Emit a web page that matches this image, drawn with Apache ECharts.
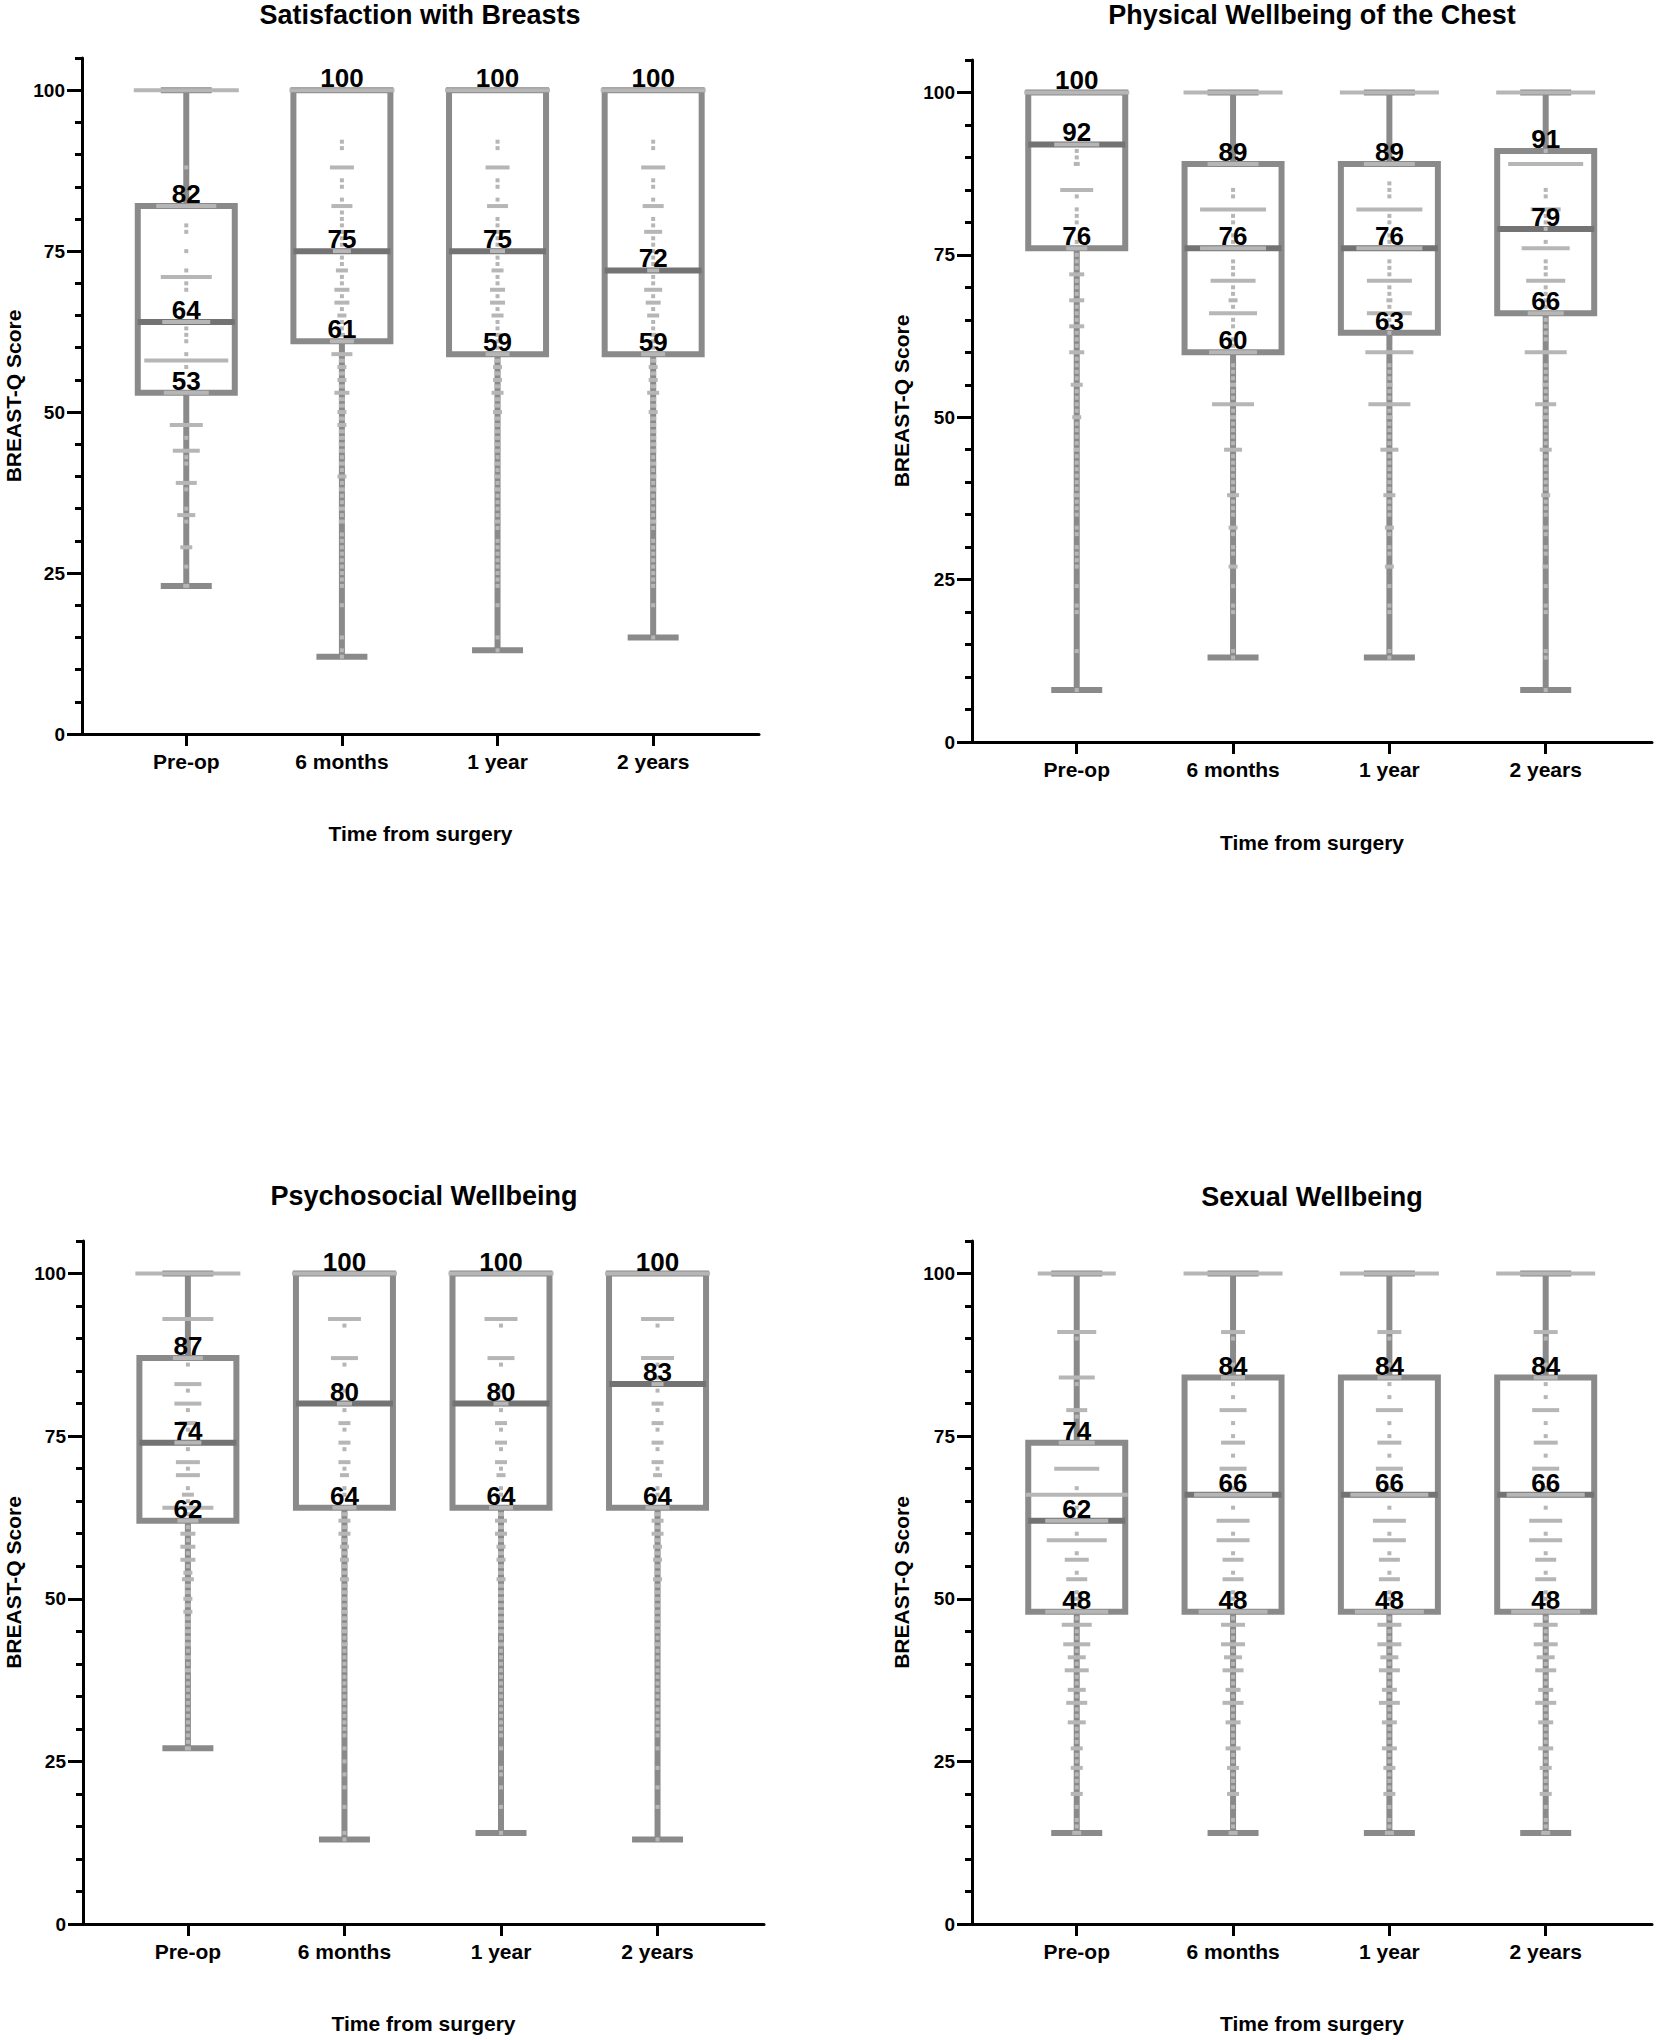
<!DOCTYPE html>
<html>
<head>
<meta charset="utf-8">
<script src="https://cdn.jsdelivr.net/npm/echarts@6/dist/echarts.min.js"></script>
<style>
html,body{margin:0;padding:0;background:#ffffff;}
#chart{width:1661px;height:2040px;}
</style>
</head>
<body>
<div id="chart"></div>
<script>
// ---------------- DATA ----------------
const categories = ['Pre-op', '6 months', '1 year', '2 years'];
const yTickValues = [0, 25, 50, 75, 100];
const panelTitles = ['Satisfaction with Breasts', 'Physical Wellbeing of the Chest', 'Psychosocial Wellbeing', 'Sexual Wellbeing'];
const yAxisTitle = 'BREAST-Q Score';
const xAxisTitle = 'Time from surgery';

// box statistics per category: [min, Q1, median, Q3, max]
const satisfactionBox = [[23, 53, 64, 82, 100], [12, 61, 75, 100, 100], [13, 59, 75, 100, 100], [15, 59, 72, 100, 100]];
const physicalBox = [[8, 76, 92, 100, 100], [13, 60, 76, 89, 100], [13, 63, 76, 89, 100], [8, 66, 79, 91, 100]];
const psychosocialBox = [[27, 62, 74, 87, 100], [13, 64, 80, 100, 100], [14, 64, 80, 100, 100], [13, 64, 83, 100, 100]];
const sexualBox = [[14, 48, 62, 74, 100], [14, 48, 66, 84, 100], [14, 48, 66, 84, 100], [14, 48, 66, 84, 100]];

// individual scores per category: [score, number of patients]
const satisfactionPoints = [
  [[100,35],[88,1],[82,20],[79,1],[78,1],[75,1],[72,1],[71,17],[70,1],[69,1],[64,16],[63,1],[62,1],[61,1],[59,1],[58,28],[57,1],[53,15],[48,11],[46,1],[44,9],[43,1],[42,1],[39,7],[38,1],[35,1],[34,6],[33,1],[29,4],[26,1],[23,2]],
  [[100,35],[92,1],[91,1],[88,8],[86,1],[85,1],[83,1],[82,7],[81,1],[80,1],[79,1],[78,1],[77,1],[76,1],[75,6],[74,1],[73,1],[72,4],[71,1],[70,1],[69,5],[68,1],[67,5],[66,1],[65,3],[64,1],[63,1],[62,2],[61,8],[59,7],[58,2],[57,3],[56,2],[55,3],[54,2],[53,5],[52,2],[51,2],[50,3],[49,2],[48,3],[47,2],[46,2],[45,2],[44,2],[43,1],[42,2],[41,1],[40,3],[39,1],[38,2],[37,1],[36,1],[35,2],[34,1],[33,2],[31,1],[30,1],[29,1],[28,1],[27,1],[26,1],[25,1],[24,1],[23,1],[20,1],[15,1],[13,1],[12,1]],
  [[100,35],[92,1],[91,1],[88,8],[86,1],[85,1],[83,1],[82,7],[80,1],[79,1],[78,4],[77,1],[76,1],[75,5],[74,1],[73,1],[72,4],[71,1],[70,1],[69,5],[68,1],[67,5],[66,1],[65,4],[64,1],[63,1],[62,2],[61,1],[60,1],[59,8],[58,2],[57,3],[56,2],[55,3],[54,2],[53,4],[52,2],[51,2],[50,3],[49,2],[48,2],[47,2],[46,2],[45,2],[44,2],[43,1],[42,2],[41,1],[40,2],[39,1],[38,2],[37,1],[36,1],[35,1],[34,1],[33,2],[32,1],[30,1],[29,1],[28,1],[27,1],[26,1],[25,1],[24,1],[23,1],[20,1],[15,1],[13,1]],
  [[100,35],[92,1],[91,1],[88,8],[86,1],[85,1],[83,1],[82,7],[80,1],[79,1],[78,6],[77,1],[76,1],[75,1],[74,1],[73,1],[72,4],[71,1],[70,1],[69,6],[68,1],[67,5],[66,1],[65,4],[64,1],[63,1],[62,2],[61,1],[60,1],[59,8],[58,2],[57,3],[56,2],[55,3],[54,2],[53,4],[52,2],[51,2],[50,3],[49,2],[48,2],[47,2],[46,2],[45,2],[44,2],[43,1],[42,2],[41,1],[40,2],[39,1],[38,2],[37,1],[36,1],[35,1],[34,1],[33,2],[32,1],[30,1],[29,1],[28,1],[27,1],[26,1],[25,1],[24,1],[23,1],[20,1],[15,1]]
];
const physicalPoints = [
  [[100,35],[92,15],[91,1],[90,1],[89,2],[85,11],[84,1],[82,1],[81,1],[80,1],[77,1],[76,7],[75,1],[74,1],[73,1],[72,5],[71,1],[70,1],[69,1],[68,5],[67,1],[66,1],[65,1],[64,5],[63,1],[62,1],[61,1],[60,5],[59,1],[58,1],[57,1],[56,1],[55,4],[54,1],[53,1],[52,1],[51,1],[50,3],[49,1],[48,1],[47,1],[46,1],[45,2],[44,1],[43,1],[42,1],[41,1],[40,1],[39,1],[38,2],[37,1],[36,1],[35,1],[33,1],[32,1],[30,1],[29,1],[28,1],[27,1],[24,1],[21,1],[20,1],[14,1],[8,1]],
  [[100,33],[89,17],[85,1],[84,1],[82,22],[81,1],[80,1],[78,1],[77,1],[76,22],[74,1],[73,1],[72,1],[71,15],[70,1],[69,1],[68,3],[67,1],[66,16],[65,1],[64,1],[62,1],[61,1],[60,16],[58,1],[57,1],[56,1],[55,2],[54,1],[53,1],[52,14],[51,1],[50,2],[49,1],[48,1],[47,1],[46,1],[45,6],[44,1],[43,1],[42,1],[41,1],[40,1],[39,1],[38,4],[37,1],[36,1],[35,1],[33,3],[32,1],[30,1],[29,1],[27,3],[24,1],[21,1],[20,1],[14,1],[13,1]],
  [[100,33],[89,17],[86,1],[85,1],[84,1],[82,22],[81,1],[80,1],[78,1],[77,1],[76,22],[74,1],[73,1],[72,1],[71,15],[70,1],[69,1],[68,2],[67,1],[66,15],[65,1],[64,1],[63,1],[60,16],[58,1],[57,1],[56,1],[55,2],[54,1],[53,1],[52,14],[51,1],[50,2],[49,1],[48,1],[47,1],[46,1],[45,6],[44,1],[43,1],[42,1],[41,1],[40,1],[39,1],[38,4],[37,1],[36,1],[35,1],[33,3],[32,1],[30,1],[29,1],[27,3],[24,1],[21,1],[20,1],[14,1],[13,1]],
  [[100,33],[91,1],[89,25],[85,1],[84,1],[82,10],[81,1],[80,1],[79,1],[77,1],[76,16],[74,1],[73,1],[72,1],[71,13],[70,1],[69,1],[68,1],[67,1],[66,12],[65,1],[64,1],[63,1],[62,1],[60,14],[58,1],[57,1],[56,1],[55,2],[54,1],[53,1],[52,7],[51,1],[50,2],[49,1],[48,1],[47,1],[46,1],[45,4],[44,1],[43,1],[42,1],[41,1],[40,1],[39,1],[38,3],[37,1],[36,1],[35,1],[33,2],[32,1],[30,1],[29,1],[27,2],[24,1],[21,1],[20,1],[14,1],[13,1],[8,1]]
];
const psychosocialPoints = [
  [[100,35],[93,17],[87,10],[86,1],[83,9],[82,1],[80,9],[79,1],[77,6],[76,1],[74,9],[73,1],[71,8],[70,1],[69,8],[67,1],[66,4],[65,1],[64,17],[63,1],[62,7],[61,1],[60,5],[59,1],[58,5],[57,1],[56,5],[55,1],[54,3],[53,4],[52,2],[51,2],[50,3],[49,2],[48,3],[47,2],[46,2],[45,2],[44,2],[43,2],[42,1],[41,2],[40,1],[39,2],[38,1],[37,1],[36,1],[35,1],[34,1],[33,1],[32,1],[31,1],[30,1],[29,1],[28,1],[27,2]],
  [[100,35],[93,11],[92,1],[87,9],[86,1],[82,1],[80,5],[79,1],[77,4],[76,1],[74,4],[73,1],[71,4],[70,1],[69,3],[67,1],[66,1],[64,8],[63,2],[62,4],[61,2],[60,4],[59,2],[58,3],[57,2],[56,3],[55,2],[54,2],[53,3],[52,2],[51,2],[50,2],[49,2],[48,2],[47,2],[46,2],[45,2],[44,1],[43,2],[42,1],[41,1],[40,1],[39,1],[38,1],[37,1],[36,1],[35,1],[34,1],[33,1],[32,1],[31,1],[30,1],[29,1],[27,1],[25,1],[23,1],[21,1],[18,1],[14,1],[13,1]],
  [[100,35],[93,11],[92,1],[87,9],[86,1],[82,1],[80,5],[79,1],[77,4],[76,1],[74,4],[73,1],[71,4],[70,1],[69,3],[67,1],[66,1],[64,8],[63,2],[62,4],[61,2],[60,4],[59,2],[58,3],[57,2],[56,3],[55,2],[54,2],[53,3],[52,2],[51,2],[50,2],[49,2],[48,2],[47,2],[46,2],[45,2],[44,1],[43,2],[42,1],[41,1],[40,1],[39,1],[38,1],[37,1],[36,1],[35,1],[34,1],[33,1],[32,1],[31,1],[30,1],[29,1],[27,1],[24,1],[23,1],[21,1],[18,1],[14,1]],
  [[100,35],[93,11],[92,1],[87,11],[86,1],[84,1],[83,4],[82,1],[80,4],[79,1],[77,4],[76,1],[74,4],[73,1],[71,4],[70,1],[69,3],[67,1],[66,1],[64,8],[63,2],[62,4],[61,2],[60,4],[59,2],[58,3],[57,2],[56,3],[55,2],[54,2],[53,3],[52,2],[51,2],[50,2],[49,2],[48,2],[47,2],[46,2],[45,2],[44,1],[43,2],[42,1],[41,1],[40,1],[39,1],[38,1],[37,1],[36,1],[35,1],[34,1],[33,1],[32,1],[31,1],[30,1],[29,1],[27,1],[24,1],[21,1],[18,1],[13,1]]
];
const sexualPoints = [
  [[100,26],[91,13],[90,1],[84,12],[83,1],[79,7],[78,1],[74,12],[70,15],[67,1],[66,34],[64,1],[62,21],[60,1],[59,20],[57,1],[56,8],[54,1],[53,7],[51,1],[50,5],[49,1],[48,21],[47,1],[46,10],[45,1],[44,1],[43,9],[42,1],[41,6],[40,1],[39,8],[38,1],[37,1],[36,6],[35,1],[34,7],[33,1],[32,1],[31,6],[30,1],[29,1],[28,1],[27,4],[26,1],[25,1],[24,4],[23,1],[22,1],[21,1],[20,4],[18,1],[16,1],[15,1],[14,3]],
  [[100,33],[91,8],[90,1],[86,1],[84,8],[83,1],[81,1],[79,9],[77,1],[75,1],[74,8],[72,1],[70,9],[67,1],[66,26],[64,1],[62,11],[60,1],[59,11],[57,1],[56,7],[54,1],[53,7],[51,1],[50,1],[48,23],[47,1],[46,8],[45,1],[44,1],[43,8],[42,1],[41,6],[40,1],[39,7],[38,1],[37,1],[36,5],[35,1],[34,7],[33,1],[32,1],[31,5],[30,1],[29,1],[28,1],[27,5],[26,1],[25,1],[24,4],[23,1],[22,1],[21,1],[20,4],[18,1],[16,1],[15,1],[14,3]],
  [[100,33],[91,8],[90,1],[86,1],[84,8],[83,1],[81,1],[79,9],[77,1],[75,1],[74,8],[72,1],[70,9],[67,1],[66,26],[64,1],[62,11],[60,1],[59,11],[57,1],[56,7],[54,1],[53,7],[51,1],[50,1],[48,23],[47,1],[46,8],[45,1],[44,1],[43,8],[42,1],[41,6],[40,1],[39,7],[38,1],[37,1],[36,5],[35,1],[34,7],[33,1],[32,1],[31,5],[30,1],[29,1],[28,1],[27,5],[26,1],[25,1],[24,4],[23,1],[22,1],[21,1],[20,4],[18,1],[16,1],[15,1],[14,3]],
  [[100,33],[91,8],[90,1],[86,1],[84,8],[83,1],[81,1],[79,9],[77,1],[75,1],[74,8],[72,1],[70,9],[67,1],[66,26],[64,1],[62,11],[60,1],[59,11],[57,1],[56,7],[54,1],[53,7],[51,1],[50,1],[48,23],[47,1],[46,8],[45,1],[44,1],[43,8],[42,1],[41,6],[40,1],[39,7],[38,1],[37,1],[36,5],[35,1],[34,7],[33,1],[32,1],[31,5],[30,1],[29,1],[28,1],[27,5],[26,1],[25,1],[24,4],[23,1],[22,1],[21,1],[20,4],[18,1],[16,1],[15,1],[14,3]]
];

// ---------------- LAYOUT / STYLE ----------------
const FONT = '"Liberation Sans", Arial, Helvetica, sans-serif';
const panels = [
  { title: panelTitles[0], box: satisfactionBox, points: satisfactionPoints, grid: { left: 82, top: 58, width: 677, height: 676 }, titleX: 420, titleY: 15, yGap: 58, xGap: 89 },
  { title: panelTitles[1], box: physicalBox, points: physicalPoints, grid: { left: 972, top: 60, width: 680, height: 682 }, titleX: 1312, titleY: 15, yGap: 60, xGap: 90 },
  { title: panelTitles[2], box: psychosocialBox, points: psychosocialPoints, grid: { left: 83, top: 1241, width: 681, height: 683 }, titleX: 424, titleY: 1196, yGap: 59, xGap: 89 },
  { title: panelTitles[3], box: sexualBox, points: sexualPoints, grid: { left: 972, top: 1241, width: 680, height: 683 }, titleX: 1312, titleY: 1197, yGap: 60, xGap: 89 }
];
const BOX_COLOR = '#8a8a8a';
const MEDIAN_COLOR = '#737373';
const POINT_COLOR = '#b6b6b6';
const BOX_W = 97, CAP_W = 51, LW = 6;

function renderBox(params, api) {
  const x = api.value(0);
  const pMin = api.coord([x, api.value(1)]);
  const pQ1 = api.coord([x, api.value(2)]);
  const pMed = api.coord([x, api.value(3)]);
  const pQ3 = api.coord([x, api.value(4)]);
  const pMax = api.coord([x, api.value(5)]);
  const cx = pMin[0];
  const children = [];
  // lower whisker + cap
  children.push({ type: 'line', shape: { x1: cx, y1: pQ1[1], x2: cx, y2: pMin[1] }, style: { stroke: BOX_COLOR, lineWidth: LW } });
  children.push({ type: 'rect', shape: { x: cx - CAP_W / 2, y: pMin[1] - LW / 2, width: CAP_W, height: LW }, style: { fill: BOX_COLOR } });
  if (api.value(5) > api.value(4)) {
    children.push({ type: 'line', shape: { x1: cx, y1: pQ3[1], x2: cx, y2: pMax[1] }, style: { stroke: BOX_COLOR, lineWidth: LW } });
    children.push({ type: 'rect', shape: { x: cx - CAP_W / 2, y: pMax[1] - LW / 2, width: CAP_W, height: LW }, style: { fill: BOX_COLOR } });
  }
  children.push({ type: 'rect', shape: { x: cx - BOX_W / 2, y: pQ3[1], width: BOX_W, height: pQ1[1] - pQ3[1] }, style: { fill: '#ffffff', stroke: BOX_COLOR, lineWidth: LW } });
  children.push({ type: 'line', shape: { x1: cx - BOX_W / 2, y1: pMed[1], x2: cx + BOX_W / 2, y2: pMed[1] }, style: { stroke: MEDIAN_COLOR, lineWidth: LW } });
  return { type: 'group', children: children };
}

function renderLabel(params, api) {
  const v = api.value(1);
  const p = api.coord([api.value(0), v]);
  return {
    type: 'text',
    x: p[0], y: p[1] - 12,
    style: { text: String(v), fill: '#000000', font: 'bold 26px ' + FONT, align: 'center', verticalAlign: 'middle' }
  };
}

const option = {
  animation: false,
  backgroundColor: '#ffffff',
  title: [], grid: [], xAxis: [], yAxis: [], series: []
};

panels.forEach((pn, i) => {
  option.title.push({
    text: pn.title, left: pn.titleX, top: pn.titleY, padding: 0,
    textAlign: 'center', textVerticalAlign: 'middle',
    textStyle: { fontFamily: FONT, fontWeight: 'bold', fontSize: 27, color: '#000' }
  });
  option.grid.push(Object.assign({ containLabel: false }, pn.grid));
  option.xAxis.push({
    type: 'value', gridIndex: i, min: 0.33, max: 4.68,
    name: xAxisTitle, nameLocation: 'middle', nameGap: pn.xGap,
    nameTextStyle: { fontFamily: FONT, fontWeight: 'bold', fontSize: 21, color: '#000' },
    splitLine: { show: false },
    axisLine: { show: true, onZero: false, lineStyle: { color: '#000', width: 3 } },
    axisTick: { show: true, customValues: [1, 2, 3, 4], length: 12, inside: false, lineStyle: { color: '#000', width: 3 } },
    axisLabel: { show: true, customValues: [1, 2, 3, 4], margin: 17, formatter: (v) => categories[Math.round(v) - 1] || '',
      fontFamily: FONT, fontWeight: 'bold', fontSize: 21, color: '#000' }
  });
  // minor ticks axis (every 5)
  option.yAxis.push({
    type: 'value', gridIndex: i, min: 0, max: 105, interval: 5, position: 'left', offset: 0,
    splitLine: { show: false },
    axisLine: { show: true, onZero: false, lineStyle: { color: '#000', width: 3 } },
    axisTick: { show: true, length: 7, lineStyle: { color: '#000', width: 3 } },
    axisLabel: { show: false }
  });
  // major ticks axis with labels and title
  option.yAxis.push({
    type: 'value', gridIndex: i, min: 0, max: 105, position: 'left', offset: 0,
    name: yAxisTitle, nameLocation: 'middle', nameRotate: 90, nameGap: pn.yGap,
    nameTextStyle: { fontFamily: FONT, fontWeight: 'bold', fontSize: 21, color: '#000' },
    splitLine: { show: false },
    axisLine: { show: false, onZero: false },
    axisTick: { show: true, customValues: yTickValues, length: 15, lineStyle: { color: '#000', width: 3 } },
    axisLabel: { show: true, customValues: yTickValues, margin: 17, fontFamily: FONT, fontWeight: 'bold', fontSize: 19, color: '#000' }
  });

  option.series.push({
    type: 'custom', xAxisIndex: i, yAxisIndex: 2 * i, z: 2, silent: true,
    renderItem: renderBox,
    encode: { x: 0, y: [1, 2, 3, 4, 5] },
    data: pn.box.map((b, k) => [k + 1].concat(b))
  });
  const pts = [];
  pn.points.forEach((arr, k) => arr.forEach((pc) => pts.push([k + 1, pc[0], pc[1]])));
  option.series.push({
    type: 'scatter', xAxisIndex: i, yAxisIndex: 2 * i, z: 3, silent: true,
    symbol: 'rect',
    symbolSize: (val) => [Math.max(4, val[2] * 3), 4],
    itemStyle: { color: POINT_COLOR, opacity: 1 },
    data: pts
  });
  const labs = [];
  pn.box.forEach((b, k) => { labs.push([k + 1, b[1]]); labs.push([k + 1, b[2]]); labs.push([k + 1, b[3]]); });
  option.series.push({
    type: 'custom', xAxisIndex: i, yAxisIndex: 2 * i, z: 4, silent: true,
    renderItem: renderLabel,
    encode: { x: 0, y: 1 },
    data: labs
  });
});

const chart = echarts.init(document.getElementById('chart'), null, { renderer: 'svg', width: 1661, height: 2040 });
chart.setOption(option);
</script>
</body>
</html>
